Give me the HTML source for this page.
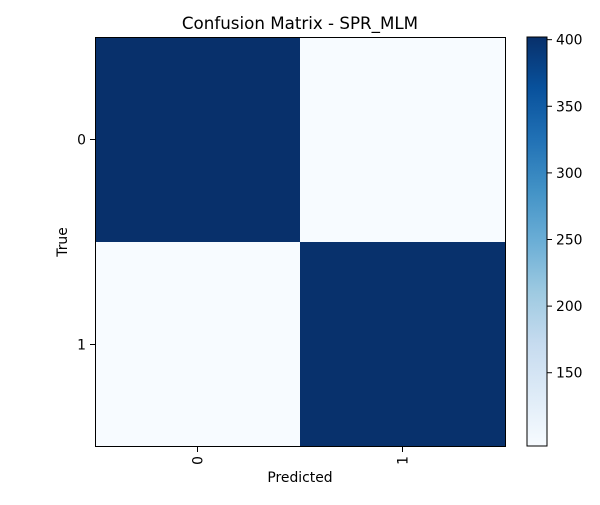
<!DOCTYPE html>
<html><head><meta charset="utf-8"><style>
body{margin:0;background:#fff;font-family:"Liberation Sans","DejaVu Sans",sans-serif}
svg text{font-family:"DejaVu Sans","Liberation Sans",sans-serif;font-size:13.9px;fill:#000}
</style></head><body>
<svg id="c" width="600" height="500">
<defs><linearGradient id="blues" x1="0" y1="1" x2="0" y2="0">
<stop offset="0" stop-color="#f7fbff"/><stop offset="0.125" stop-color="#deebf7"/><stop offset="0.25" stop-color="#c6dbef"/><stop offset="0.375" stop-color="#9ecae1"/><stop offset="0.5" stop-color="#6baed6"/><stop offset="0.625" stop-color="#4292c6"/><stop offset="0.75" stop-color="#2171b5"/><stop offset="0.875" stop-color="#08519c"/><stop offset="1" stop-color="#08306b"/></linearGradient></defs>
<text x="300" y="29" text-anchor="middle" style="font-size:16.7px">Confusion Matrix - SPR_MLM</text>
<g id="cells"></g>
<rect x="95.5" y="37.5" width="410" height="409" fill="none" stroke="#000" stroke-width="1"/>
<g id="axes"></g>
<text x="300" y="482" text-anchor="middle">Predicted</text>
<text transform="translate(67,242) rotate(-90)" text-anchor="middle">True</text>
<rect x="527" y="37" width="20" height="409" fill="url(#blues)" stroke="#000" stroke-width="1"/>
<g id="cbticks"></g>
</svg>
<script>
const classes=["0","1"];
const matrix=[[402,95],[95,401]];
const cbTicks=[150,200,250,300,350,400];
const vmin=95,vmax=402;
const blues=[[247,251,255],[222,235,247],[198,219,239],[158,202,225],[107,174,214],[66,146,198],[33,113,181],[8,81,156],[8,48,107]];
function color(v){let t=Math.max(0,Math.min(1,(v-vmin)/(vmax-vmin)))*8;let i=Math.min(7,Math.floor(t)),f=t-i;const a=blues[i],b=blues[i+1];return `rgb(${a.map((x,k)=>Math.round(x+(b[k]-x)*f)).join(',')})`;}
const X0=95,Y0=37,W=410,H=410,n=classes.length;
const xs=j=>X0+j*W/n, ys=i=>Y0+i*H/n;
const cbY=v=>446-(v-vmin)/(vmax-vmin)*409;
const ns="http://www.w3.org/2000/svg";
function mk(tag,attrs,parent){const e=document.createElementNS(ns,tag);for(const k in attrs)e.setAttribute(k,attrs[k]);parent.appendChild(e);return e;}
const cells=document.getElementById('cells'),axes=document.getElementById('axes'),cb=document.getElementById('cbticks');
matrix.forEach((row,i)=>row.forEach((v,j)=>{
 const r=mk('rect',{x:xs(j),y:ys(i),width:W/n,height:H/n,fill:color(v)},cells);
 
 
}));
classes.forEach((c,k)=>{
 const cx=xs(k)+W/n/2, cy=ys(k)+H/n/2;
 mk('line',{x1:cx,x2:cx,y1:447,y2:452,stroke:'#000'},axes);
 const t=mk('text',{transform:`translate(${cx+5},456) rotate(-90)`,'text-anchor':'end'},axes);t.textContent=c;
 
 
 mk('line',{x1:90,x2:95,y1:cy,y2:cy,stroke:'#000'},axes);
 const u=mk('text',{x:86,y:cy+5,'text-anchor':'end'},axes);u.textContent=c;
 
 
});
cbTicks.forEach(v=>{
 const y=cbY(v);
 mk('line',{x1:547,x2:552,y1:y,y2:y,stroke:'#000'},cb);
 const t=mk('text',{x:556,y:y+5},cb);t.textContent=v;
 
 
});
</script>
</body></html>
